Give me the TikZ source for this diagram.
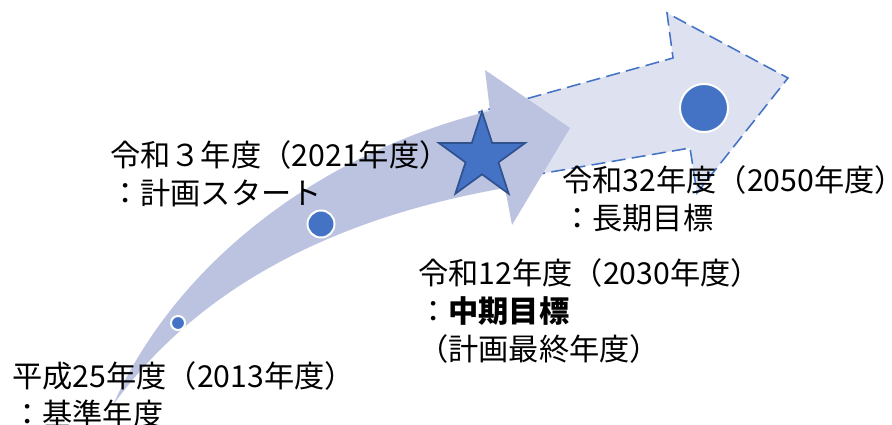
\documentclass[tikz,border=0pt]{standalone}
\usepackage{fontspec}
\setmainfont{Noto Sans CJK JP}
\usetikzlibrary{shapes.geometric}
\definecolor{plan-blue}{RGB}{68,114,196}
\definecolor{plan-edge}{RGB}{47,82,143}
\definecolor{arrow-dark}{RGB}{188,195,224}
\definecolor{arrow-light}{RGB}{221,225,240}

\begin{document}
\begin{tikzpicture}
    [x=0.025cm, y=-0.025cm,
    lbl/.style = {anchor=north west, inner sep=0pt, align=left,
            font=\fontsize{21.5}{27}\selectfont},
    dot/.style = {circle, fill=plan-blue, draw=white, line width=1.4pt,
            inner sep=0pt},
    ]
    \useasboundingbox (0,0) rectangle (892,425);

    % long-term arrow
    \draw[fill=arrow-light, draw=plan-blue, line width=1.1pt, dash pattern=on 10pt off 4.5pt]
        (490,183) -- (479,112) -- (673,58) -- (667,13) -- (788,78)
        -- (697,193) -- (690,148) -- (545,173) -- cycle;

    % curved arrow
    \fill[arrow-dark] (113,405) .. controls (180,255) and (330,150) .. (490,111)
        -- (485,70) -- (570,128) -- (512,225) -- (505,188)
        .. controls (350,215) and (205,278) .. (113,405) -- cycle;

	\node[star, star points=5, star point ratio=2.618, minimum size=2.27cm, inner sep=0pt,
	    fill=plan-blue, draw=plan-edge, line width=1.2pt] (mid-star) at (482,157) {};

	\node[dot, minimum size=0.35cm] (d2013) at (178,323) {};
	\node[dot, minimum size=0.675cm] (d2021) at (321,224) {};
	\node[dot, minimum size=1.2cm] (d2050) at (704,108) {};

	\node[lbl] (t2013) at (12,361) {平成25年度（2013年度）\\：基準年度};
	\node[lbl] (t2021) at (110,140) {令和３年度（2021年度）\\：計画スタート};
	\node[lbl] (t2030) at (418,258) {令和12年度（2030年度）\\：\textbf{中期目標}\\（計画最終年度）};
	\node[lbl] (t2050) at (562,165) {令和32年度（2050年度）\\：長期目標};
\end{tikzpicture}
\end{document}
